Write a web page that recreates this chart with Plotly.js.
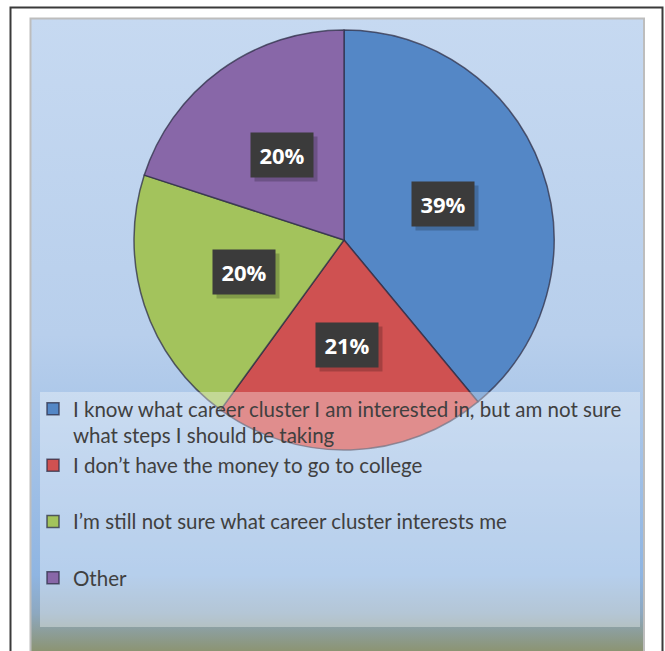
<!DOCTYPE html>
<html><head><meta charset="utf-8">
<script src="https://cdn.plot.ly/plotly-3.0.1.min.js"></script>
<style>html,body{margin:0;padding:0;background:#fff;}#chart{width:665px;height:651px;}</style>
</head><body><div id="chart"></div>
<script>
// ---- data ----
const categories = [
  "I know what career cluster I am interested in, but am not sure<br>what steps I should be taking",
  "I don\u2019t have the money to go to college<br>\u00a0",
  "I\u2019m still not sure what career cluster interests me<br>\u00a0",
  "Other"
];
const values = [39, 21, 20, 20];
const sliceColors = ['#5487C6', '#CF5151', '#A3C35C', '#8867A8'];

// ---- layout helpers ----
const W = 665, H = 651;
const px = v => v / W, py = v => 1 - v / H;
const dom = {x: [px(134), px(554)], y: [py(450), py(30)]};

// label positions derived from data (mid-angle of each slice, half radius)
const cx = (dom.x[0] + dom.x[1]) / 2 * W;
const cy = (1 - (dom.y[0] + dom.y[1]) / 2) * H;
const R = Math.min((dom.x[1] - dom.x[0]) * W, (dom.y[1] - dom.y[0]) * H) / 2;
const total = values.reduce((a, b) => a + b, 0);
let cum = 0;
const annotations = [];
values.forEach(v => {
  const mid = (cum + v / 2) / total * 2 * Math.PI;
  cum += v;
  const lx = cx + 0.5 * R * Math.sin(mid);
  const ly = cy - 0.5 * R * Math.cos(mid);
  const txt = Math.round(v / total * 100) + '%';
  const base = {x: px(lx), y: py(ly), xref: 'paper', yref: 'paper', showarrow: false,
    xanchor: 'center', yanchor: 'middle',
    text: txt, width: 52, height: 34, borderpad: 5,
    font: {family: '"Open Sans", Lato, sans-serif', size: 22, color: '#FFFFFF', weight: 'bold'}};
  annotations.push(Object.assign({}, base, {text: '\u00a0', bgcolor: 'rgba(0,0,0,0.2)', xshift: 4, yshift: -4}));
  annotations.push(Object.assign({}, base, {bgcolor: '#3B3B3B'}));
});

const gradSvg = "<svg xmlns='http://www.w3.org/2000/svg' width='615' height='633' viewBox='0 0 615 633' preserveAspectRatio='none'>" +
  "<defs><linearGradient id='g' x1='0' y1='0' x2='0' y2='1'>" +
  "<stop offset='0' stop-color='#C6D9F1'/>" +
  "<stop offset='0.5' stop-color='#B8CFEC'/>" +
  "<stop offset='0.88' stop-color='#8FB5E2'/>" +
  "<stop offset='0.94' stop-color='#8DA8C0'/>" +
  "<stop offset='1' stop-color='#8C9473'/>" +
  "</linearGradient></defs><rect width='615' height='633' fill='url(#g)'/></svg>";

const trace = {
  type: 'pie',
  labels: categories,
  values: values,
  sort: false,
  direction: 'clockwise',
  rotation: 0,
  textinfo: 'none',
  hoverinfo: 'label+percent',
  domain: dom,
  marker: {colors: sliceColors, line: {color: 'rgba(45,45,70,0.75)', width: 1.5}}
};

const layout = {
  width: W, height: H,
  margin: {l: 0, r: 0, t: 0, b: 0},
  paper_bgcolor: '#FFFFFF',
  showlegend: true,
  legend: {
    x: px(33), y: py(389), xanchor: 'left', yanchor: 'top',
    bgcolor: 'rgba(0,0,0,0)', valign: 'top', traceorder: 'normal',
    font: {family: 'Lato, "Open Sans", sans-serif', size: 20.5, color: '#404040'}
  },
  images: [{
    source: 'data:image/svg+xml;charset=utf-8,' + encodeURIComponent(gradSvg),
    xref: 'paper', yref: 'paper', x: px(30), y: py(18), sizex: px(645) - px(30), sizey: 633 / H,
    xanchor: 'left', yanchor: 'top', sizing: 'stretch', layer: 'below'
  }],
  shapes: [
    {type: 'rect', xref: 'paper', yref: 'paper', x0: px(10.5), x1: px(662.5), y0: py(665), y1: py(7.5),
      line: {color: '#3A3A3A', width: 2}, fillcolor: 'rgba(0,0,0,0)', layer: 'below'},
    {type: 'rect', xref: 'paper', yref: 'paper', x0: px(30.5), x1: px(644), y0: py(665), y1: py(18.5),
      line: {color: '#BDBDBD', width: 2}, fillcolor: 'rgba(0,0,0,0)', layer: 'below'},
    {type: 'rect', xref: 'paper', yref: 'paper', x0: px(40), x1: px(640), y0: py(627), y1: py(392),
      line: {width: 0}, fillcolor: 'rgba(255,255,255,0.35)', layer: 'above'}
  ],
  annotations: annotations
};

Plotly.newPlot('chart', [trace], layout, {displayModeBar: false, staticPlot: true});
</script>
</body></html>
